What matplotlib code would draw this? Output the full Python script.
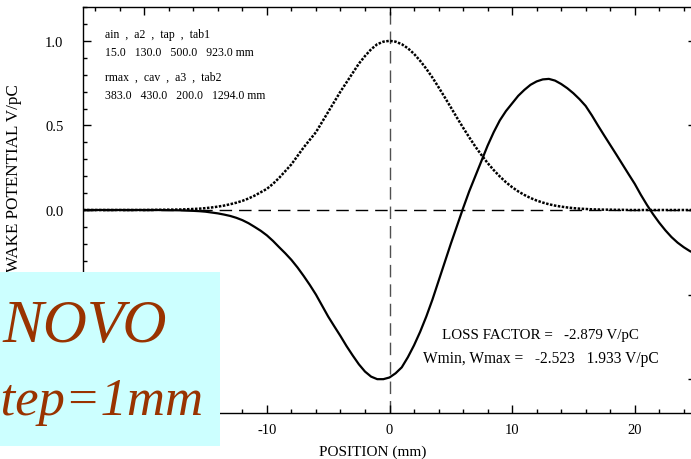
import matplotlib
matplotlib.use("Agg")
import matplotlib.pyplot as plt
from matplotlib.patches import Rectangle
from matplotlib.ticker import MultipleLocator, FormatStrFormatter

# ---- data ----
position_mm = [-25, -24, -23, -22, -21, -20, -19, -18, -17, -16,
               -15.5, -15, -14.5, -14, -13.5, -13, -12.5, -12, -11.5, -11, -10.5, -10,
               -9.5, -9, -8.5, -8, -7.5, -7, -6.5, -6, -5.5, -5, -4.5, -4, -3.5, -3,
               -2.5, -2, -1.5, -1, -0.5, 0,
               0.5, 1, 1.5, 2, 2.5, 3, 3.5, 4, 4.5, 5, 5.5, 6, 6.5, 7, 7.5, 8, 8.5, 9,
               9.5, 10, 10.5, 11, 11.5, 12, 12.5, 13, 13.5, 14, 14.5, 15, 15.5, 16,
               16.5, 17, 17.5, 18, 18.5, 19, 19.5, 20, 20.5, 21, 21.5, 22, 22.5, 23,
               23.5, 24, 24.5, 25]

bunch = [0, 0, 0, 0, 0, 0, 0.001, 0.002, 0.003, 0.006,
         0.008, 0.011, 0.015, 0.02, 0.026, 0.034, 0.043, 0.054, 0.068, 0.085, 0.105, 0.125,
         0.155, 0.19, 0.23, 0.27, 0.32, 0.37, 0.415, 0.46, 0.52, 0.58, 0.64, 0.70, 0.755, 0.81,
         0.865, 0.91, 0.95, 0.98, 0.995, 1.0,
         0.995, 0.98, 0.956, 0.923, 0.882, 0.835, 0.783, 0.726, 0.667, 0.607, 0.546, 0.487,
         0.43, 0.375, 0.325, 0.278, 0.236, 0.198, 0.164, 0.135, 0.11, 0.089, 0.071, 0.056,
         0.044, 0.034, 0.026, 0.02, 0.015, 0.011, 0.008, 0.006, 0.004, 0.003, 0.002, 0.002,
         0.001, 0.001, 0, 0, 0, 0, 0, 0, 0, 0, 0, 0, 0, 0]

wake = [0, 0, 0, 0, 0, 0, 0, -0.001, -0.002, -0.005,
        -0.007, -0.01, -0.015, -0.02, -0.027, -0.035, -0.046, -0.06, -0.078, -0.10, -0.123,
        -0.15, -0.183, -0.22, -0.256, -0.295, -0.34, -0.39, -0.443, -0.50, -0.565, -0.63,
        -0.688, -0.745, -0.805, -0.86, -0.912, -0.955, -0.985, -1.0, -1.0, -0.99,
        -0.965, -0.93, -0.87, -0.80, -0.72, -0.63, -0.53, -0.42, -0.31, -0.20, -0.095, 0.01,
        0.11, 0.20, 0.29, 0.38, 0.46, 0.53, 0.585, 0.63, 0.675, 0.71, 0.74, 0.76, 0.772,
        0.775, 0.765, 0.745, 0.72, 0.69, 0.655, 0.615, 0.56, 0.50, 0.442, 0.385, 0.328,
        0.27, 0.212, 0.155, 0.09, 0.03, -0.025, -0.075, -0.12, -0.16, -0.193, -0.22,
        -0.243, -0.26]

assert len(position_mm) == len(bunch) == len(wake)

params1_names = "ain  ,  a2  ,  tap  ,  tab1"
params1_vals = "15.0   130.0   500.0   923.0 mm"
params2_names = "rmax  ,  cav  ,  a3  ,  tab2"
params2_vals = "383.0   430.0   200.0   1294.0 mm"
loss_text = "LOSS FACTOR =   -2.879 V/pC"
wminmax_text = "Wmin, Wmax =   -2.523   1.933 V/pC"

W, H = 691, 460
fig = plt.figure(figsize=(W / 100, H / 100), dpi=100)
serif = ["Liberation Serif", "DejaVu Serif"]

ax = fig.add_axes([83 / W, 46 / H, 613 / W, 406 / H])
ax.set_xlim(-25, 25)
ax.set_ylim(-1.2, 1.2)

ax.axhline(0, color="black", lw=1.0, ls=(0, (9, 5)), zorder=1)
ax.axvline(0, color="#505050", lw=1.0, ls=(0, (9, 5)), zorder=1)

ax.plot(position_mm, bunch, color="black", lw=1.8, ls=(0, (1, 0.6)), zorder=3)
ax.plot(position_mm, wake, color="black", lw=1.6, zorder=4)

ax.xaxis.set_major_locator(MultipleLocator(10))
ax.xaxis.set_minor_locator(MultipleLocator(2))
ax.yaxis.set_major_locator(MultipleLocator(0.5))
ax.yaxis.set_minor_locator(MultipleLocator(0.1))
ax.tick_params(which="both", direction="in", top=True, right=True, width=1.0)
ax.tick_params(which="major", length=6)
ax.tick_params(which="minor", length=3)
ax.tick_params(axis="y", which="major", pad=14)
ax.tick_params(axis="x", which="major", pad=7)
ax.yaxis.set_major_formatter(FormatStrFormatter("%.1f"))
ax.xaxis.set_major_formatter(FormatStrFormatter("%d"))
for s in ax.spines.values():
    s.set_linewidth(1.0)

fig.canvas.draw()
# labels hidden behind the cyan box in the reference are left invisible
for lab in ax.get_xticklabels():
    lab.set_fontfamily(serif)
    lab.set_fontsize(10.5)
    if lab.get_position()[0] < -15:
        lab.set_visible(False)
for lab in ax.get_yticklabels():
    lab.set_fontfamily(serif)
    lab.set_fontsize(10.5)
    if lab.get_position()[1] < -0.2:
        lab.set_visible(False)

ax.set_xlabel("POSITION (mm)", family=serif, fontsize=11)
ax.xaxis.set_label_coords((373 - 83) / 613, (414 - 446) / 406)
ax.set_ylabel("WAKE POTENTIAL V/pC", family=serif, fontsize=12.3)
ax.yaxis.set_label_coords((22 - 83) / 613, (414 - 178) / 406)

# parameter block and loss factor text (pixel positions)
def ftxt(x, y, s, **kw):
    fig.text(x / W, 1 - y / H, s, family=serif, va="center", **kw)

ftxt(105, 35, params1_names, fontsize=8.5)
ftxt(105, 53, params1_vals, fontsize=8.5)
ftxt(105, 78, params2_names, fontsize=8.5)
ftxt(105, 96, params2_vals, fontsize=8.5)
ftxt(442, 336, loss_text, fontsize=10.8)
ftxt(423, 359, wminmax_text, fontsize=11.2)

# cyan overlay box
fig.patches.append(Rectangle((-60 / W, 1 - 447 / H), 280 / W, 174 / H,
                             transform=fig.transFigure, facecolor="#CCFFFF",
                             edgecolor="none", zorder=10))
fig.text(85 / W, 1 - 342 / H, "NOVO", family=serif, style="italic", fontsize=44,
         color="#993300", ha="center", va="baseline", zorder=11)
fig.text(203 / W, 1 - 415 / H, "step=1mm", family=serif, style="italic", fontsize=38,
         color="#993300", ha="right", va="baseline", zorder=11)

fig.savefig("out.png", dpi=100)
